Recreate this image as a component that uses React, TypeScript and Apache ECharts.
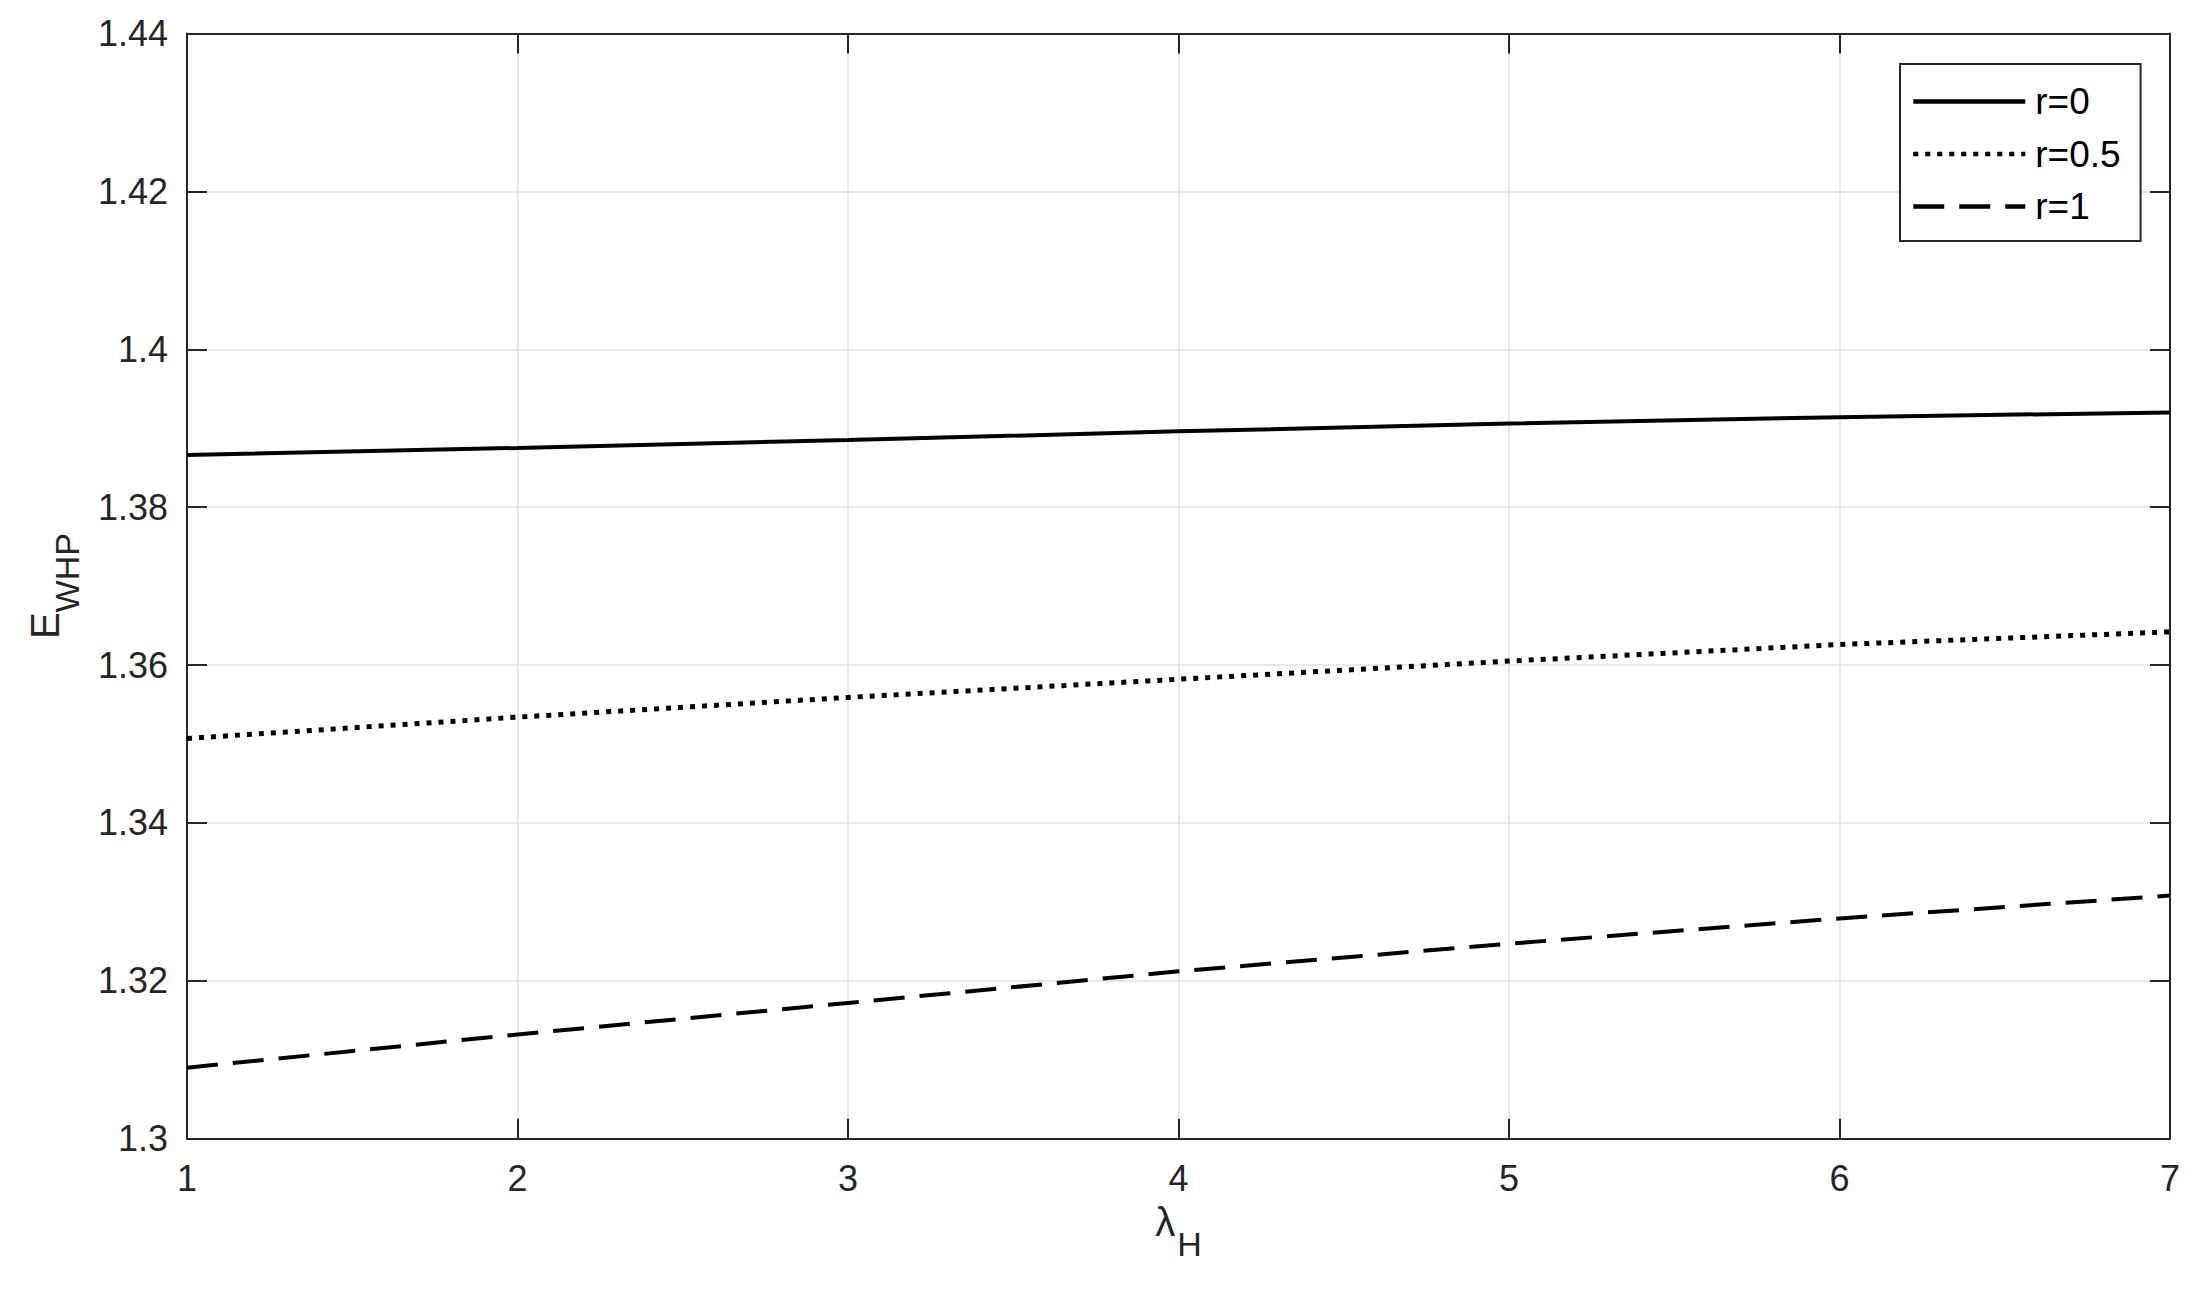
import React, { useEffect, useRef } from "react";
import * as echarts from "echarts";

const xValues = [1, 2, 3, 4, 5, 6, 7];
const seriesNames = ["r=0", "r=0.5", "r=1"];
const r0Values = [1.3866, 1.3875, 1.3885, 1.3896, 1.3906, 1.3914, 1.392];
const r05Values = [1.3507, 1.3534, 1.3559, 1.3582, 1.3605, 1.3626, 1.3642];
const r1Values = [1.309, 1.3132, 1.3172, 1.3212, 1.3247, 1.3279, 1.3308];

const FONT = "'Liberation Sans', Arial, Helvetica, sans-serif";
const AXIS = "#262626";
const GRID = "#e0e0e0";

export default function App() {
  const ref = useRef<HTMLDivElement>(null);
  useEffect(() => {
    if (!ref.current) return;
    const chart = echarts.init(ref.current, undefined, { renderer: "svg" });
    const mk = (vals: number[]) => xValues.map((x, i) => [x, vals[i]]);
    const lineTypes: any[] = ["solid", [5, 7], [31, 15]];
    const lineWidths = [4, 5, 4];
    const datasets = [r0Values, r05Values, r1Values];
    const fmtY = (v: number) => parseFloat(v.toFixed(2)).toString();
    chart.setOption({
      animation: false,
      backgroundColor: "#ffffff",
      textStyle: { fontFamily: FONT },
      grid: { left: 187, right: 31, top: 33.5, bottom: 154.3 },
      legend: {
        orient: "vertical",
        left: 1900,
        top: 64,
        data: seriesNames,
        itemWidth: 112,
        itemHeight: 24,
        itemGap: 15.5,
        padding: [19, 20, 16, 11],
        borderColor: AXIS,
        borderWidth: 2,
        backgroundColor: "#ffffff",
        itemStyle: { opacity: 0 },
        lineStyle: { width: 4.5, cap: "butt" },
        textStyle: { fontFamily: FONT, fontSize: 37, color: "#000", padding: [0, 0, 0, 5] },
      },
      xAxis: [
        {
          type: "value",
          min: 1,
          max: 7,
          interval: 1,
          name: "{a|λ}{b|H}",
          nameLocation: "middle",
          nameGap: 75,
          nameTextStyle: {
            rich: {
              a: { fontFamily: FONT, fontSize: 40, lineHeight: 40, color: AXIS, padding: [0, 2, 19, 0], verticalAlign: "bottom" },
              b: { fontFamily: FONT, fontSize: 34, lineHeight: 34, color: AXIS, verticalAlign: "bottom" },
            },
          },
          axisLine: { show: true, onZero: false, lineStyle: { color: AXIS, width: 2 } },
          axisTick: { show: true, inside: true, length: 20, lineStyle: { color: AXIS, width: 2 } },
          axisLabel: { fontFamily: FONT, fontSize: 36, color: AXIS, margin: 22 },
          splitLine: { show: true, lineStyle: { color: GRID, width: 1.5 } },
        },
        {
          type: "value",
          position: "top",
          min: 1,
          max: 7,
          interval: 1,
          axisLine: { show: true, onZero: false, lineStyle: { color: AXIS, width: 2 } },
          axisTick: { show: true, inside: true, length: 20, lineStyle: { color: AXIS, width: 2 } },
          axisLabel: { show: false },
          splitLine: { show: false },
        },
      ],
      yAxis: [
        {
          type: "value",
          min: 1.3,
          max: 1.44,
          interval: 0.02,
          name: "{a|E}{b|WHP}",
          nameLocation: "middle",
          nameRotate: 90,
          nameGap: 103,
          nameTextStyle: {
            rich: {
              a: { fontFamily: FONT, fontSize: 40, lineHeight: 40, color: AXIS, padding: [0, 0, 19, 0], verticalAlign: "bottom" },
              b: { fontFamily: FONT, fontSize: 34, lineHeight: 34, color: AXIS, verticalAlign: "bottom" },
            },
          },
          axisLine: { show: true, onZero: false, lineStyle: { color: AXIS, width: 2 } },
          axisTick: { show: true, inside: true, length: 20, lineStyle: { color: AXIS, width: 2 } },
          axisLabel: { fontFamily: FONT, fontSize: 36, color: AXIS, margin: 19, formatter: fmtY },
          splitLine: { show: true, lineStyle: { color: GRID, width: 1.5 } },
        },
        {
          type: "value",
          position: "right",
          min: 1.3,
          max: 1.44,
          interval: 0.02,
          axisLine: { show: true, onZero: false, lineStyle: { color: AXIS, width: 2 } },
          axisTick: { show: true, inside: true, length: 20, lineStyle: { color: AXIS, width: 2 } },
          axisLabel: { show: false },
          splitLine: { show: false },
        },
      ],
      series: datasets.map((vals, i) => ({
        name: seriesNames[i],
        type: "line",
        xAxisIndex: 0,
        yAxisIndex: 0,
        data: mk(vals),
        symbol: "none",
        showSymbol: false,
        smooth: false,
        lineStyle: { color: "#000000", width: lineWidths[i], type: lineTypes[i], cap: "butt" },
        itemStyle: { color: "#000000" },
        z: 3,
      })),
    });
    return () => chart.dispose();
  }, []);
  return (
    <div
      ref={ref}
      style={{ position: "fixed", left: 0, top: 0, width: 2201, height: 1293, background: "#fff" }}
    />
  );
}
